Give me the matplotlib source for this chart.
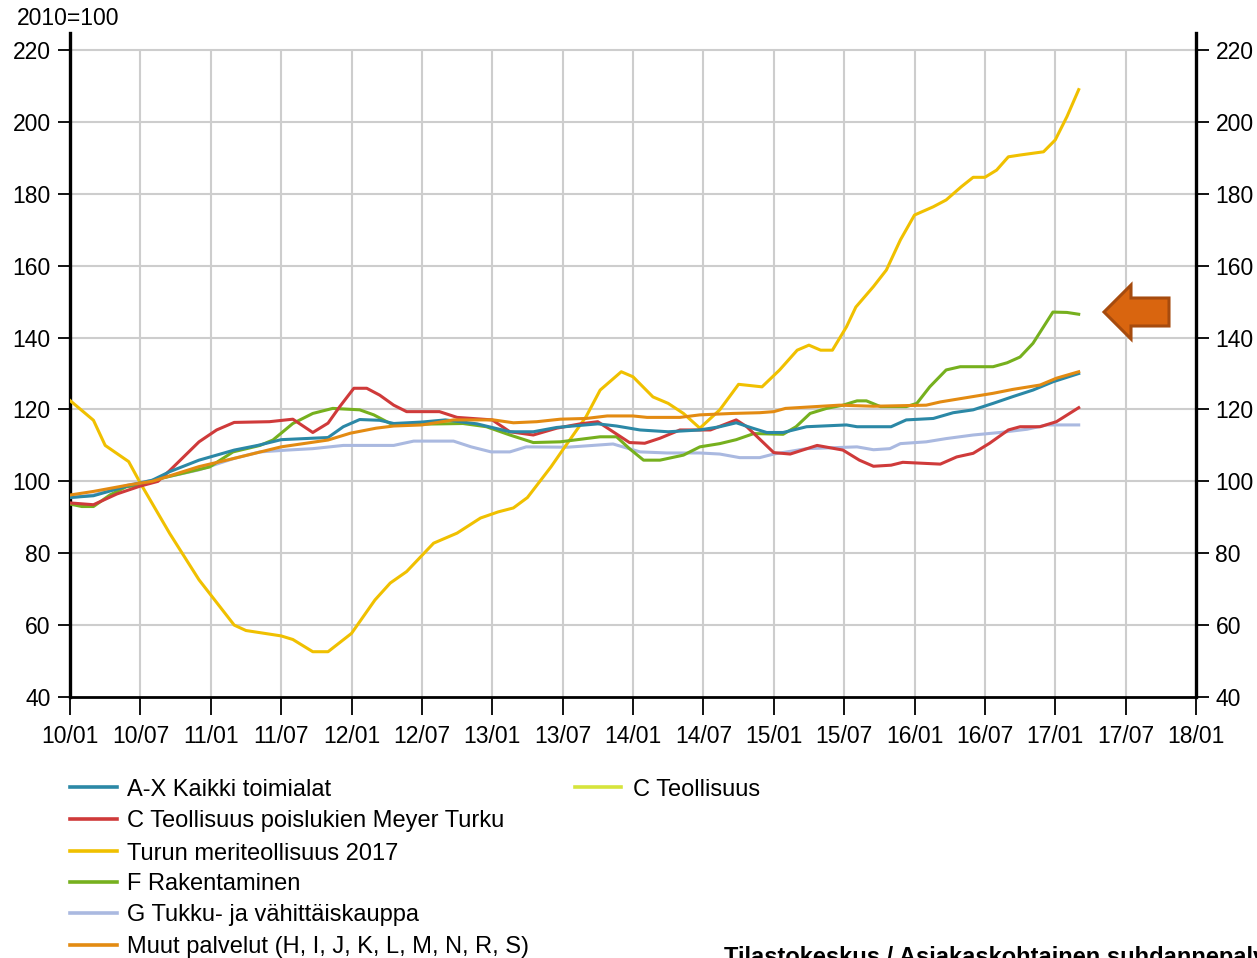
import matplotlib
matplotlib.use("Agg")
import matplotlib.pyplot as plt
from matplotlib.lines import Line2D
from matplotlib.patches import Polygon

plt.rcParams['font.family'] = ['Liberation Sans', 'DejaVu Sans']

W, H = 1257, 958

# x axis: months since 2010-01
tick_months = list(range(0, 97, 6))
tick_labels = ["10/01", "10/07", "11/01", "11/07", "12/01", "12/07", "13/01", "13/07",
               "14/01", "14/07", "15/01", "15/07", "16/01", "16/07", "17/01", "17/07", "18/01"]
y_ticks = [40, 60, 80, 100, 120, 140, 160, 180, 200, 220]

# A-X Kaikki toimialat
ax_months = [0, 2, 5, 7, 8.5, 11, 14, 16, 18, 22, 23.3, 24.7, 26.4, 27.6, 30, 32, 34.7, 37.5,
             39.5, 41.5, 45, 46.6, 48.6, 51, 53.7, 55.4, 56.8, 58.2, 59.4, 60.8, 62.8, 66.2,
             67.1, 70, 71.3, 73.6, 75.3, 77, 78.7, 80.4, 82.1, 83.8, 86]
ax_vals = [95.5, 96, 98.8, 100.3, 102.7, 105.9, 108.7, 110, 111.6, 112.2, 115.2, 117.2, 117,
           116.1, 116.5, 117.1, 116, 113.8, 113.8, 115, 116, 115.4, 114.3, 113.8, 114.3, 115.2,
           116.3, 114.8, 113.6, 113.6, 115.2, 115.7, 115.2, 115.2, 117.1, 117.5, 119.1, 119.9,
           121.7, 123.6, 125.4, 127.7, 130]

# C Teollisuus poislukien Meyer Turku
c_ex_months = [0, 2, 4, 6, 7.5, 8.5, 11, 12.5, 14, 17, 19, 20.7, 22, 23, 24.2, 25.3, 26.4, 27.6,
               28.7, 31.5, 33, 36, 37.5, 39.5, 41.5, 43.5, 45, 46.3, 47.7, 49, 50.3, 52, 54.6,
               56.8, 57.7, 60, 61.4, 63.7, 65.9, 67.3, 68.5, 70, 71, 74.2, 75.6, 77, 78.4, 80,
               81, 82.7, 84.1, 86]
c_ex_vals = [94, 93.5, 96.5, 98.7, 100, 103, 111, 114.3, 116.4, 116.6, 117.3, 113.6, 116.2,
             120.8, 125.9, 125.9, 124, 121.2, 119.4, 119.4, 117.8, 117.1, 113.8, 112.9, 114.8,
             116, 116.6, 113.8, 110.8, 110.6, 112, 114.3, 114.3, 117.1, 115.2, 108, 107.6, 110,
             108.7, 105.9, 104.2, 104.5, 105.3, 104.8, 106.8, 107.8, 110.6, 114.3, 115.2, 115.2,
             116.6, 120.5]

# Turun meriteollisuus 2017
turku_months = [0, 2, 3, 5, 6, 8.5, 11, 14, 15, 18, 19, 20.7, 22, 24, 26, 27.3, 28.7, 31, 33,
                35, 36.5, 37.8, 39, 41, 42, 44, 45.2, 47, 48, 49.7, 51, 52.3, 53.7, 55.4, 57,
                59, 60.5, 62, 63, 64, 65, 66.2, 67, 68.5, 69.6, 70.8, 72, 73.6, 74.7, 76, 77,
                78, 79, 80, 81, 83, 84, 85, 86]
turku_vals = [122.5, 117, 110, 105.5, 99.5, 85.5, 72.6, 60, 58.5, 57, 56, 52.6, 52.6, 57.7, 67,
              71.7, 74.9, 82.8, 85.6, 89.8, 91.5, 92.6, 95.5, 104, 108.7, 118, 125.4, 130.5,
              129.1, 123.5, 121.7, 118.9, 114.8, 119.9, 127, 126.3, 131, 136.5, 137.9, 136.5,
              136.5, 143, 148.5, 154.2, 158.8, 167.2, 174.1, 176.4, 178.3, 182, 184.6, 184.6,
              186.6, 190.3, 190.8, 191.7, 195, 201.5, 209]

# F Rakentaminen
f_months = [0, 1, 2, 3.4, 4.8, 6.2, 7.7, 11.9, 13.9, 16.2, 17.3, 19, 20.7, 22.4, 24.7, 25.9,
            27.3, 29.8, 33.5, 35.5, 37.5, 39.5, 41.8, 45.2, 46.6, 47.7, 48.9, 50.3, 52.3, 53.7,
            55.4, 56.8, 58.3, 60.8, 61.9, 63.1, 64.5, 65.9, 67.1, 67.9, 69.1, 71.3, 72.2, 73.3,
            74.7, 75.9, 78.7, 79.9, 81, 82.1, 83, 83.8, 85, 86]
f_vals = [93.7, 93, 93, 96.2, 98.5, 99, 100.8, 104, 108.2, 110, 111.5, 116.1, 118.9, 120.3,
          119.9, 118.5, 116.1, 115.9, 116.1, 115.2, 112.9, 110.8, 111, 112.4, 112.4, 109.1,
          105.9, 105.9, 107.3, 109.6, 110.5, 111.6, 113.3, 113.1, 115.2, 118.9, 120.3, 121.2,
          122.4, 122.4, 120.8, 120.8, 121.7, 126.3, 131, 131.9, 131.9, 133, 134.6, 138.4, 143,
          147.1, 147, 146.5]

# G Tukku- ja vähittäiskauppa
g_months = [0, 2, 5, 7, 11, 14, 16.2, 18.5, 20.7, 23.3, 27.6, 29.3, 32.7, 34.2, 35.9, 37.5,
            38.9, 42.4, 46.3, 48.6, 50.9, 53.7, 55.4, 57.1, 58.8, 60, 62.8, 67.1, 68.5, 69.9,
            70.8, 73, 74.7, 77, 79.3, 81.6, 83.3, 86]
g_vals = [95.5, 96.2, 99, 100.3, 103.2, 106.4, 108.2, 108.7, 109.1, 110, 110, 111.2, 111.2,
          109.6, 108.2, 108.2, 109.6, 109.5, 110.4, 108.2, 107.9, 107.9, 107.6, 106.6, 106.6,
          107.6, 109.1, 109.6, 108.8, 109.1, 110.5, 111, 111.9, 112.9, 113.6, 114.5, 115.7,
          115.7]

# Muut palvelut (H, I, J, K, L, M, N, R, S)
muut_months = [0, 2, 5, 7, 11, 14, 18, 22, 23.9, 26.1, 27.6, 30, 32.7, 36.1, 37.8, 39.8, 41.8,
               44, 45.8, 48, 49.2, 52, 53.7, 56.5, 58.8, 60, 61, 65.6, 68.5, 73, 74.2, 77, 78.7,
               80.4, 82.7, 84.1, 86]
muut_vals = [96.2, 97.2, 99, 100, 104.1, 106.4, 109.6, 111.5, 113.4, 114.8, 115.4, 115.7,
             117.1, 117.1, 116.3, 116.6, 117.3, 117.5, 118.2, 118.2, 117.8, 117.8, 118.5, 118.9,
             119.1, 119.4, 120.3, 121.2, 120.9, 121.2, 122.1, 123.6, 124.5, 125.6, 126.8, 128.7,
             130.5]

labels = ["A-X Kaikki toimialat", "C Teollisuus poislukien Meyer Turku",
          "Turun meriteollisuus 2017", "F Rakentaminen", "G Tukku- ja vähittäiskauppa",
          "Muut palvelut (H, I, J, K, L, M, N, R, S)", "C Teollisuus"]
colors = ["#2b88a6", "#cf3a3a", "#f0c000", "#76b01e", "#aab9e0", "#e38b12", "#d6e43c"]

fig = plt.figure(figsize=(W / 100, H / 100), dpi=100)
fig.patch.set_facecolor("white")
left, right = 70 / W, 1196 / W
bottom, top = 1 - 697 / H, 1 - 33 / H
ax = fig.add_axes([left, bottom, right - left, top - bottom])

series = [(ax_months, ax_vals), (c_ex_months, c_ex_vals), (turku_months, turku_vals),
          (f_months, f_vals), (g_months, g_vals), (muut_months, muut_vals)]
# draw order: lavender, yellow, green, red, teal, orange on top
order = [4, 2, 3, 1, 0, 5]
for i in order:
    m, v = series[i]
    ax.plot(m, v, color=colors[i], lw=2.2, solid_joinstyle='round', zorder=3)

ax.set_xlim(0, 96)
ax.set_ylim(40, 40 + (697 - 33) / 3.594)
ax.set_xticks(tick_months)
ax.set_xticklabels(tick_labels)
ax.set_yticks(y_ticks)

# grid: horizontal across full width, vertical only up to 220
ax.hlines(y_ticks[1:], 0, 96, color="#cdcdcd", lw=1.5, zorder=0)
ax.vlines(tick_months[1:-1], 40, 220, color="#cdcdcd", lw=1.5, zorder=0)

ax.spines["top"].set_visible(False)
ax.spines["left"].set_linewidth(2.4)
ax.spines["right"].set_linewidth(2.4)
ax.spines["bottom"].set_linewidth(2.0)
for s in ["left", "right", "bottom"]:
    ax.spines[s].set_color("black")

ax.tick_params(axis='y', which='both', left=True, right=True, labelleft=True, labelright=True,
               direction='out', length=9, width=1.3, labelsize=16.5, colors='black')
ax.tick_params(axis='x', direction='out', length=13, width=1.3, labelsize=16.5, pad=7,
               colors='black')
for t in ax.yaxis.get_major_ticks():
    t.set_pad(5)

fig.text(17 / W, 1 - 25 / H, "2010=100", fontsize=16.5, ha='left', va='baseline')

# legend drawn manually
rows_y = [787, 819, 851, 882, 913, 945]
for i in range(6):
    yy = 1 - rows_y[i] / H
    fig.add_artist(Line2D([70 / W, 117 / W], [yy, yy], color=colors[i], lw=2.6,
                          transform=fig.transFigure))
    fig.text(127 / W, yy, labels[i], fontsize=17, ha='left', va='center_baseline')
yy = 1 - 787 / H
fig.add_artist(Line2D([575 / W, 621 / W], [yy, yy], color=colors[6], lw=2.6,
                      transform=fig.transFigure))
fig.text(633 / W, yy, labels[6], fontsize=17, ha='left', va='center_baseline')

fig.text(724 / W, 1 - 964 / H, "Tilastokeskus / Asiakaskohtainen suhdannepalvelu",
         fontsize=17, fontweight='bold', ha='left', va='baseline')

# arrow annotation
pts = [(1104, 312), (1131, 285), (1131, 298), (1169, 298), (1169, 326), (1131, 326), (1131, 339)]
poly = Polygon([(x / W, 1 - y / H) for x, y in pts], closed=True, facecolor="#d9650f",
               edgecolor="#a64b0e", lw=2.2, transform=fig.transFigure)
fig.add_artist(poly)

fig.savefig("out.png", dpi=100, facecolor="white")
